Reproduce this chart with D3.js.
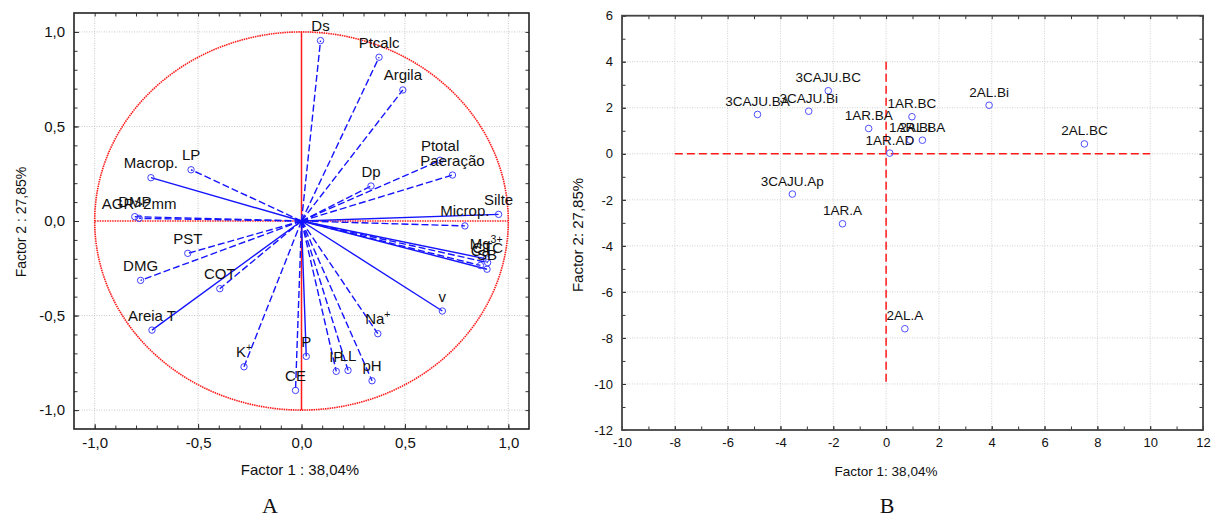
<!DOCTYPE html>
<html>
<head>
<meta charset="utf-8">
<script src="https://cdn.jsdelivr.net/npm/d3@7"></script>
<style>
  html, body { margin: 0; padding: 0; background: #fff; }
  text { font-family: "Liberation Sans", Arial, sans-serif; }
</style>
</head>
<body>
<script>
// ---------- Panel A data: variable loadings ----------
const varNames = ["Ds","Ptcalc","Argila","Ptotal","Paeração","Dp","Silte","Microp.",
  "Mg3+","CTC","Ca","SB","v","Na+","pH","LL","IP","P","CE","K+","Areia T","COT",
  "DMG","PST","AGR>2mm","DMP","Macrop.","LP"];
const factor1Load = [0.092,0.375,0.49,0.67,0.73,0.336,0.953,0.79,
  0.893,0.90,0.865,0.897,0.681,0.369,0.341,0.225,0.168,0.023,-0.029,-0.278,-0.723,-0.395,
  -0.778,-0.55,-0.785,-0.806,-0.728,-0.534];
const factor2Load = [0.954,0.866,0.693,0.321,0.243,0.185,0.035,-0.026,
  -0.20,-0.22,-0.235,-0.255,-0.476,-0.596,-0.845,-0.79,-0.795,-0.716,-0.896,-0.771,-0.577,-0.358,
  -0.314,-0.171,0.014,0.023,0.229,0.271];
const solidVars = ["Silte","Mg3+","SB","v","P","Areia T","Macrop."];
const ticksA = [-1.0,-0.5,0.0,0.5,1.0];

// ---------- Panel B data: sample scores ----------
const sampleNames = ["3CAJU.BC","3CAJU.Bi","3CAJU.BA","1AR.BA","3CAJU.Ap","1AR.A","1AR.BC",
  "2AL.Bi","2AL.BC","1AR.AD","1AR.Bi","2AL.BA","2AL.A"];
const score1 = [-2.19,-2.93,-4.87,-0.66,-3.55,-1.65,0.98,3.90,7.51,0.14,0.91,1.375,0.71];
const score2 = [2.74,1.85,1.71,1.10,-1.75,-3.04,1.61,2.11,0.43,0.03,0.59,0.59,-7.6];
const ticksBx = [-10,-8,-6,-4,-2,0,2,4,6,8,10,12];
const ticksBy = [-12,-10,-8,-6,-4,-2,0,2,4,6];

const titleX = "Factor 1 : 38,04%";
const titleY = "Factor 2 : 27,85%";
const titleXB = "Factor 1: 38,04%";
const titleYB = "Factor 2: 27,85%";

// ---------- setup ----------
const W = 1211, H = 518;
const svg = d3.select("body").append("svg").attr("width", W).attr("height", H);
const loc = d3.formatLocale({decimal: ",", thousands: ".", grouping: [3], currency: ["", ""], minus: "-"});
const fmt1 = loc.format(".1f");
const fmt0 = loc.format("d");

function styleAxis(g, fs) {
  g.select(".domain").remove();
  g.selectAll("line").attr("stroke", "#333").attr("stroke-width", 1);
  g.selectAll("text").attr("font-size", fs).attr("fill", "#111")
    .attr("font-family", '"Liberation Sans", Arial, sans-serif');
}

function labelText(g, name, x, y, fs) {
  const t = g.append("text").attr("x", x).attr("y", y).attr("text-anchor", "middle")
    .attr("font-size", fs).attr("fill", "#111");
  const m = name.match(/^(.*?)(\d?\+)$/);
  if (m) {
    t.append("tspan").text(m[1]);
    t.append("tspan").attr("dy", -6).attr("font-size", fs * 0.7).text(m[2]);
  } else {
    t.text(name);
  }
}

// ================= Panel A =================
const xA = d3.scaleLinear().domain([-1.1, 1.1]).range([74, 529]);
const yA = d3.scaleLinear().domain([-1.1, 1.1]).range([429, 13]);
const gA = svg.append("g");
const minorA = d3.range(-10, 11).map(d => d / 10);

// grid
gA.selectAll(".gx").data(ticksA.filter(d => d !== 0)).join("line")
  .attr("x1", d => xA(d)).attr("x2", d => xA(d)).attr("y1", yA(1.1)).attr("y2", yA(-1.1))
  .attr("stroke", "#c8c8c8").attr("stroke-dasharray", "1,1.5");
gA.selectAll(".gy").data(ticksA.filter(d => d !== 0)).join("line")
  .attr("y1", d => yA(d)).attr("y2", d => yA(d)).attr("x1", xA(-1.1)).attr("x2", xA(1.1))
  .attr("stroke", "#c8c8c8").attr("stroke-dasharray", "1,1.5");

// unit circle
const ang = d3.range(0, 361, 1).map(a => a * Math.PI / 180);
gA.append("path")
  .attr("d", d3.line().x(a => xA(Math.cos(a))).y(a => yA(Math.sin(a)))(ang))
  .attr("fill", "none").attr("stroke", "#ff1a1a").attr("stroke-width", 1.6)
  .attr("stroke-dasharray", "1.5,0.8");

// red axes
gA.append("line").attr("x1", xA(-1)).attr("x2", xA(1)).attr("y1", yA(0)).attr("y2", yA(0))
  .attr("stroke", "#ff1a1a").attr("stroke-width", 1.5).attr("stroke-dasharray", "1.5,1");
gA.append("line").attr("x1", xA(0)).attr("x2", xA(0)).attr("y1", yA(1)).attr("y2", yA(-1))
  .attr("stroke", "#ff1a1a").attr("stroke-width", 1.5);

// vectors
const loads = varNames.map((n, i) => ({name: n, x: factor1Load[i], y: factor2Load[i]}));
gA.selectAll(".vec").data(loads).join("line")
  .attr("x1", xA(0)).attr("y1", yA(0))
  .attr("x2", d => xA(d.x)).attr("y2", d => yA(d.y))
  .attr("stroke", "#1414ff").attr("stroke-width", 1.4)
  .attr("stroke-dasharray", d => solidVars.includes(d.name) ? null : "7,3");
gA.selectAll(".pt").data(loads).join("circle")
  .attr("cx", d => xA(d.x)).attr("cy", d => yA(d.y)).attr("r", 3.2)
  .attr("fill", "none").attr("stroke", "#4040ff").attr("stroke-width", 1);
loads.forEach(d => labelText(gA, d.name, xA(d.x), yA(d.y) - 9.5, 15));

// axes (ticks inside)
gA.append("g").attr("transform", `translate(74,0)`)
  .call(d3.axisLeft(yA).tickValues(minorA).tickSize(-3.5).tickFormat("")).call(g => styleAxis(g, 15));
gA.append("g").attr("transform", `translate(74,0)`)
  .call(d3.axisLeft(yA).tickValues(ticksA).tickSize(-5).tickPadding(9).tickFormat(fmt1)).call(g => styleAxis(g, 15));
gA.append("g").attr("transform", `translate(529,0)`)
  .call(d3.axisRight(yA).tickValues(minorA).tickSize(-3.5).tickFormat("")).call(g => styleAxis(g, 15));
gA.append("g").attr("transform", `translate(0,13)`)
  .call(d3.axisTop(xA).tickValues(minorA).tickSize(-3.5).tickFormat("")).call(g => styleAxis(g, 15));
gA.append("g").attr("transform", `translate(0,429)`)
  .call(d3.axisBottom(xA).tickValues(minorA).tickSize(-3.5).tickFormat("")).call(g => styleAxis(g, 15));
gA.append("g").attr("transform", `translate(0,429)`)
  .call(d3.axisBottom(xA).tickValues(ticksA).tickSize(-5).tickPadding(8).tickFormat(fmt1)).call(g => styleAxis(g, 15));

gA.append("rect").attr("x", 74).attr("y", 13).attr("width", 455).attr("height", 416)
  .attr("fill", "none").attr("stroke", "#222").attr("stroke-width", 1.6);

gA.append("text").attr("x", 300).attr("y", 475).attr("text-anchor", "middle")
  .attr("font-size", 15).attr("fill", "#111").text(titleX);
gA.append("text").attr("transform", "translate(26,222) rotate(-90)").attr("text-anchor", "middle")
  .attr("font-size", 14).attr("fill", "#111").text(titleY);
svg.append("text").attr("x", 270).attr("y", 513).attr("text-anchor", "middle")
  .attr("font-size", 22)
  .style("font-family", '"Liberation Serif", "Times New Roman", serif').attr("fill", "#111").text("A");

// ================= Panel B =================
const xB = d3.scaleLinear().domain([-10, 12]).range([622, 1203]);
const yB = d3.scaleLinear().domain([-12, 6]).range([430, 15.7]);
const gB = svg.append("g");

gB.selectAll(".gx").data(ticksBx.slice(1, -1)).join("line")
  .attr("x1", d => xB(d)).attr("x2", d => xB(d)).attr("y1", yB(6)).attr("y2", yB(-12))
  .attr("stroke", "#cfcfcf").attr("stroke-dasharray", "1,1.5");
gB.selectAll(".gy").data(ticksBy.slice(1, -1)).join("line")
  .attr("y1", d => yB(d)).attr("y2", d => yB(d)).attr("x1", xB(-10)).attr("x2", xB(12))
  .attr("stroke", "#cfcfcf").attr("stroke-dasharray", "1,1.5");

// red dashed reference lines
gB.append("line").attr("x1", xB(-8)).attr("x2", xB(10)).attr("y1", yB(0)).attr("y2", yB(0))
  .attr("stroke", "#ff1a1a").attr("stroke-width", 1.5).attr("stroke-dasharray", "8,4");
gB.append("line").attr("x1", xB(0)).attr("x2", xB(0)).attr("y1", yB(4)).attr("y2", yB(-10))
  .attr("stroke", "#ff1a1a").attr("stroke-width", 1.5).attr("stroke-dasharray", "8,4");

const scores = sampleNames.map((n, i) => ({name: n, x: score1[i], y: score2[i]}));
gB.selectAll(".pt").data(scores).join("circle")
  .attr("cx", d => xB(d.x)).attr("cy", d => yB(d.y)).attr("r", 3.3)
  .attr("fill", "none").attr("stroke", "#5050ff").attr("stroke-width", 1);
scores.forEach(d => labelText(gB, d.name, xB(d.x), yB(d.y) - 8.5, 13.5));

const minorBx = d3.range(-10, 13);
const minorBy = d3.range(-12, 7);
gB.append("g").attr("transform", `translate(622,0)`)
  .call(d3.axisLeft(yB).tickValues(minorBy).tickSize(-3.5).tickFormat("")).call(g => styleAxis(g, 13));
gB.append("g").attr("transform", `translate(622,0)`)
  .call(d3.axisLeft(yB).tickValues(ticksBy).tickSize(-4).tickPadding(9).tickFormat(fmt0)).call(g => styleAxis(g, 13));
gB.append("g").attr("transform", `translate(1203,0)`)
  .call(d3.axisRight(yB).tickValues(minorBy).tickSize(-3.5).tickFormat("")).call(g => styleAxis(g, 13));
gB.append("g").attr("transform", `translate(0,15.7)`)
  .call(d3.axisTop(xB).tickValues(minorBx).tickSize(-3.5).tickFormat("")).call(g => styleAxis(g, 13));
gB.append("g").attr("transform", `translate(0,430)`)
  .call(d3.axisBottom(xB).tickValues(minorBx).tickSize(-3.5).tickFormat("")).call(g => styleAxis(g, 13));
gB.append("g").attr("transform", `translate(0,430)`)
  .call(d3.axisBottom(xB).tickValues(ticksBx).tickSize(-4).tickPadding(8).tickFormat(fmt0)).call(g => styleAxis(g, 13));

gB.append("rect").attr("x", 622).attr("y", 15.7).attr("width", 581).attr("height", 414.3)
  .attr("fill", "none").attr("stroke", "#444").attr("stroke-width", 1.8);

gB.append("text").attr("x", 886).attr("y", 476).attr("text-anchor", "middle")
  .attr("font-size", 13.5).attr("fill", "#111").text(titleXB);
gB.append("text").attr("transform", "translate(583,235) rotate(-90)").attr("text-anchor", "middle")
  .attr("font-size", 15).attr("fill", "#111").text(titleYB);
svg.append("text").attr("x", 887).attr("y", 513).attr("text-anchor", "middle")
  .attr("font-size", 22).style("font-family", '"Liberation Serif", "Times New Roman", serif')
  .attr("fill", "#111").text("B");
</script>
</body>
</html>
